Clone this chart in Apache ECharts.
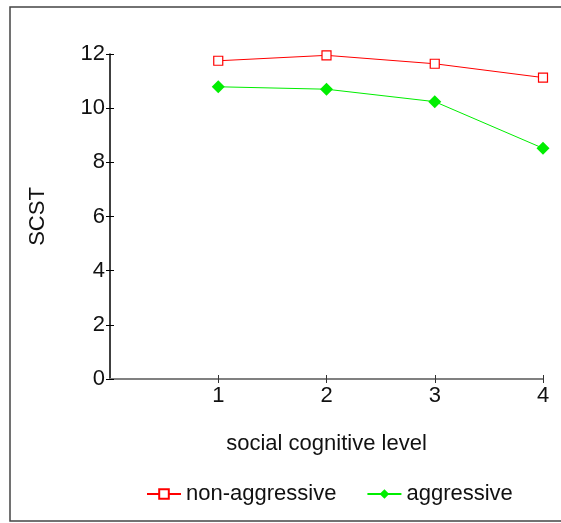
<!DOCTYPE html>
<html>
<head>
<meta charset="utf-8">
<script src="https://cdn.jsdelivr.net/npm/echarts@6/dist/echarts.min.js"></script>
<style>html,body{margin:0;padding:0;background:#fff;}#c{width:561px;height:523px;}</style>
</head>
<body>
<div id="c"></div>
<script>
var levels = [1, 2, 3, 4];
var nonAggressive = [11.75, 11.95, 11.64, 11.13];
var aggressive = [10.79, 10.70, 10.24, 8.52];
var yTicks = [0, 2, 4, 6, 8, 10, 12];

function pairs(xs, ys) { return xs.map(function (x, i) { return [x, ys[i]]; }); }

var font = 'Liberation Sans, Arial, Helvetica, sans-serif';
var chart = echarts.init(document.getElementById('c'));
chart.setOption({
  animation: false,
  backgroundColor: '#fff',
  grid: { left: 110, right: 18, top: 54, bottom: 144 },
  xAxis: [{
    type: 'value', min: 0, max: 4, interval: 1,
    name: 'social cognitive level', nameLocation: 'middle', nameGap: 54,
    nameTextStyle: { fontSize: 22, color: '#111', fontFamily: font },
    axisLine: { show: true, lineStyle: { color: '#808080', width: 2 } },
    axisTick: { show: true, length: 4, customValues: levels, lineStyle: { color: '#333', width: 1 } },
    axisLabel: { customValues: levels, fontSize: 22, color: '#111', fontFamily: font, margin: 6 },
    splitLine: { show: false }
  }, {
    type: 'value', min: 0, max: 4, interval: 1, position: 'bottom',
    axisLine: { show: false },
    axisTick: { show: true, inside: true, length: 4, customValues: levels, lineStyle: { color: '#333', width: 1 } },
    axisLabel: { show: false }, splitLine: { show: false }
  }],
  yAxis: [{
    type: 'value', min: 0, max: 12, interval: 2,
    name: 'SCST', nameLocation: 'middle', nameGap: 61, nameRotate: 90,
    nameTextStyle: { fontSize: 22, color: '#111', fontFamily: font },
    axisLine: { show: true, lineStyle: { color: '#000', width: 1.5 } },
    axisTick: { show: true, length: 4, lineStyle: { color: '#000', width: 1 } },
    axisLabel: { fontSize: 22, color: '#111', fontFamily: font, margin: 5, customValues: yTicks },
    splitLine: { show: false }
  }, {
    type: 'value', min: 0, max: 12, interval: 2, position: 'left',
    axisLine: { show: false },
    axisTick: { show: true, inside: true, length: 4, lineStyle: { color: '#000', width: 1 } },
    axisLabel: { show: false }, splitLine: { show: false }
  }],
  legend: {
    left: 141, top: 478, itemWidth: 34, itemHeight: 12, itemGap: 30,
    textStyle: { fontSize: 22, color: '#111', fontFamily: font, padding: [0, 0, 0, 0] },
    data: ['non-aggressive', 'aggressive']
  },
  series: [{
    name: 'non-aggressive', type: 'line', data: pairs(levels, nonAggressive),
    symbol: 'rect', symbolSize: 9,
    lineStyle: { color: '#ff0000', width: 1 },
    itemStyle: { color: '#fff', borderColor: '#ff0000', borderWidth: 1.2 }
  }, {
    name: 'aggressive', type: 'line', data: pairs(levels, aggressive),
    symbol: 'diamond', symbolSize: 13,
    lineStyle: { color: '#00ee00', width: 1 },
    itemStyle: { color: '#00ee00', borderColor: '#00ee00', borderWidth: 0 }
  }],
  graphic: [{
    type: 'rect', silent: true,
    shape: { x: 10, y: 7, width: 600, height: 514 },
    style: { fill: 'none', stroke: '#444', lineWidth: 1.5 }
  }]
});
</script>
</body>
</html>
